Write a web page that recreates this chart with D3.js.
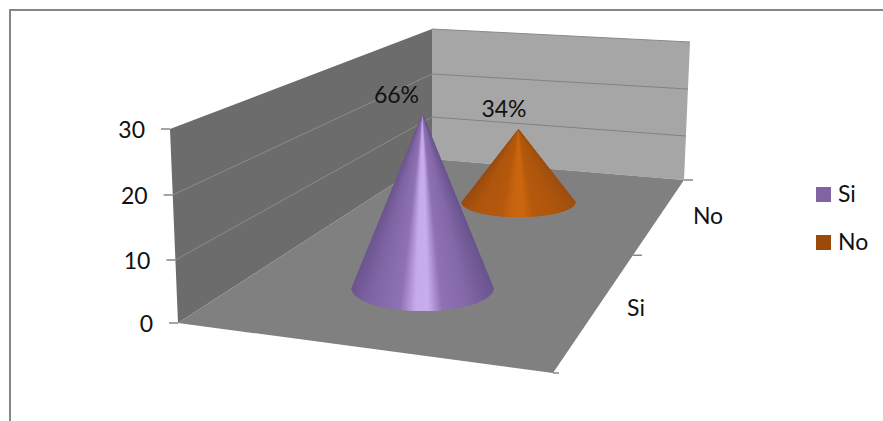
<!DOCTYPE html>
<html>
<head>
<meta charset="utf-8">
<script src="https://cdn.jsdelivr.net/npm/d3@7"></script>
<style>
html,body{margin:0;padding:0;background:#fff}
svg{display:block}
text{font-family:Lato,"Open Sans",sans-serif;fill:#111}
</style>
</head>
<body>
<svg id="chart" width="883" height="421"></svg>
<script>
const categories = ["Si", "No"];
const values = [29, 15];
const valueTicks = [0, 10, 20, 30];
const seriesBase = ["#8064a2", "#9c4a09"];
const purpleRamp = ["#6b5590", "#8468a8", "#8f72b4", "#c8aded", "#c6aaea", "#8f72b3", "#7f64a4", "#6e5690"];
const orangeRamp = ["#a04f10", "#b0560c", "#b4590d", "#ca670f", "#c8650f", "#b5590e", "#ae560f", "#9a4c10"];
const rampStops = [0, 0.18, 0.36, 0.46, 0.55, 0.66, 0.88, 1];

const total = d3.sum(values);
const svg = d3.select("#chart");

// Frame (top and left edges only are visible in the picture)
svg.append("path").attr("d", "M10,421V10H883").attr("fill", "none").attr("stroke", "#868686").attr("stroke-width", 2);

const plot = svg.append("g").style("filter", "blur(0.4px)");

// 3D box: value scales along each vertical edge of the walls
const frontEdgeX = d3.scaleLinear().domain([0, 30]).range([178, 170]);
const frontEdgeY = d3.scaleLinear().domain(valueTicks).range([323, 260, 195, 129]);
const backEdgeY = d3.scaleLinear().domain(valueTicks).range([159, 117, 74, 29]);
const backEdgeX = d3.scaleLinear().domain([0, 30]).range([432, 432]);
const rightEdgeX = d3.scaleLinear().domain([0, 30]).range([684, 690]);
const rightEdgeY = d3.scaleLinear().domain(valueTicks).range([180, 136, 89, 42]);

const front = v => [frontEdgeX(v), frontEdgeY(v)];
const back = v => [backEdgeX(v), backEdgeY(v)];
const right = v => [rightEdgeX(v), rightEdgeY(v)];
const poly = pts => "M" + pts.map(p => p.join(",")).join("L") + "Z";

const depthX = d3.scaleLinear().domain([0, 1]).range([684, 553]);
const depthY = d3.scaleLinear().domain([0, 1]).range([180, 373]);

// Walls and floor
plot.append("path").attr("d", poly([front(0), front(30), back(30), back(0)])).attr("fill", "#6c6c6c");
plot.append("path").attr("d", poly([back(0), back(30), right(30), right(0)])).attr("fill", "#a6a6a6");
plot.append("path").attr("d", poly([front(0), back(0), right(0), [depthX(1), depthY(1)]])).attr("fill", "#808080");

// Top edge of back wall, gridlines
plot.append("path").attr("d", "M" + back(30) + "L" + right(30)).attr("stroke", "#8a8a8a").attr("stroke-width", 1).attr("fill", "none");
[10, 20].forEach(v => {
  plot.append("path").attr("d", "M" + front(v) + "L" + back(v)).attr("stroke", "#8c8c8c").attr("stroke-width", 1).attr("fill", "none");
  plot.append("path").attr("d", "M" + back(v) + "L" + right(v)).attr("stroke", "#828282").attr("stroke-width", 1).attr("fill", "none");
});

// Value axis ticks + labels
valueTicks.forEach(v => {
  const [x, y] = front(v);
  plot.append("line").attr("x1", x - 9).attr("x2", x).attr("y1", y).attr("y2", y)
    .attr("stroke", "#868686").attr("stroke-width", 1.5);
  svg.append("text").attr("x", x - 25).attr("y", y + 8.5).attr("text-anchor", "end")
    .attr("font-size", 23).text(v);
});

// Category axis ticks + labels
[0, 0.39, 1].forEach(t => {
  const x = depthX(t), y = depthY(t);
  plot.append("line").attr("x1", x).attr("x2", x + (t === 1 ? 6 : 9)).attr("y1", y).attr("y2", y)
    .attr("stroke", "#868686").attr("stroke-width", 1.5);
});
const catLabelX = d3.scaleOrdinal(categories, [636, 708]);
const catLabelY = d3.scaleOrdinal(categories, [316, 224]);
categories.forEach(c => {
  svg.append("text").attr("x", catLabelX(c)).attr("y", catLabelY(c)).attr("text-anchor", "middle")
    .attr("font-size", 23).text(c);
});

// Cones
const coneX = d3.scaleOrdinal(categories, [422.5, 518.5]);
const coneY = d3.scaleOrdinal(categories, [288, 202]);
const coneRx = d3.scaleOrdinal(categories, [71, 57]);
const coneRy = d3.scaleOrdinal(categories, [23, 15]);
const coneUnit = d3.scaleOrdinal(categories, [174 / 29, 73 / 15]);
const ramps = d3.scaleOrdinal(categories, [purpleRamp, orangeRamp]);
const pctLabelX = d3.scaleOrdinal(categories, [396.5, 504]);
const pctLabelY = d3.scaleOrdinal(categories, [103, 117]);

categories.forEach((c, i) => {
  const cx = coneX(c), cy = coneY(c), rx = coneRx(c), ry = coneRy(c);
  const apex = [cx, cy - values[i] * coneUnit(c)];
  const color = d3.scaleLinear().domain(rampStops).range(ramps(c)).interpolate(d3.interpolateRgb);
  const n = 120;
  const g = plot.append("g");
  const rim = a => [cx + rx * Math.cos(a), cy + ry * Math.sin(a)];
  d3.range(n).forEach(k => {
    // each sector overlaps the next one so that no seams show between them
    const a0 = Math.PI - Math.PI * k / n, a1 = Math.PI - Math.PI * (k + 1) / n, a2 = Math.PI - Math.PI * Math.min(k + 3, n) / n;
    const f = (1 - Math.cos((a0 + a1) / 2)) / 2;
    g.append("path").attr("d", poly([apex, rim(a0), rim(a1), rim(a2)])).attr("fill", color(f));
  });
  svg.append("text").attr("x", pctLabelX(c)).attr("y", pctLabelY(c)).attr("text-anchor", "middle")
    .attr("font-size", 23).text(d3.format(".0%")(values[i] / total));
});

// Legend
const legendY = d3.scalePoint().domain(categories).range([187, 235]);
categories.forEach((c, i) => {
  svg.append("rect").attr("x", 816).attr("y", legendY(c)).attr("width", 15).attr("height", 15).attr("fill", seriesBase[i]);
  svg.append("text").attr("x", 838).attr("y", legendY(c) + 15).attr("font-size", 23).text(c);
});
</script>
</body>
</html>
